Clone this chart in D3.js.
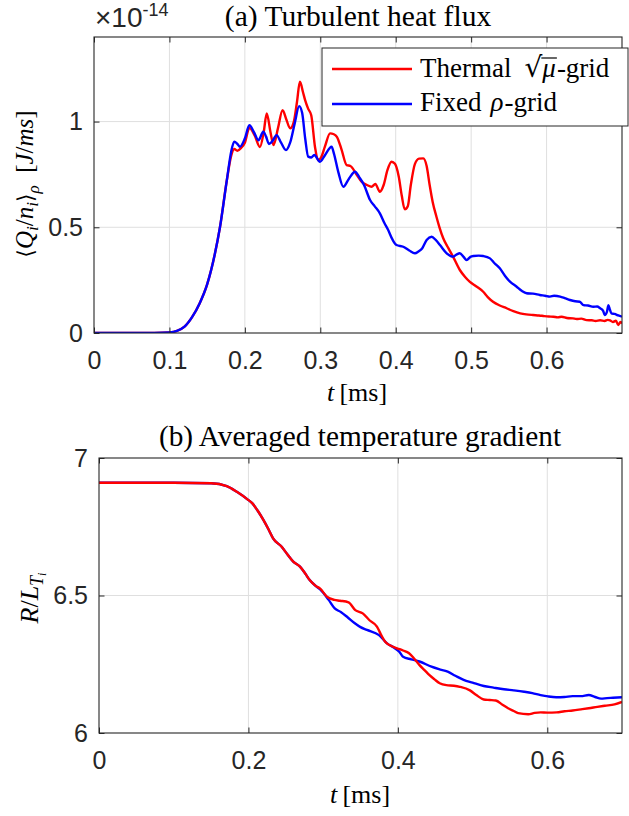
<!DOCTYPE html>
<html><head><meta charset="utf-8">
<script src="https://cdn.jsdelivr.net/npm/d3@7/dist/d3.min.js"></script>
<style>body{margin:0;background:#fff}</style>
</head><body>
<svg id="chart" width="629" height="816"></svg>
<script>
// ---------- data (time in ms) ----------
const fluxThermal = [[0,0],[0.05,0],[0.08,0.0005],[0.1,0.003],[0.11,0.01],[0.12,0.03],[0.13,0.075],[0.14,0.14],[0.15,0.23],[0.16,0.37],[0.167,0.5],[0.176,0.72],[0.182,0.84],[0.186,0.87],[0.19,0.862],[0.195,0.875],[0.2,0.9],[0.206,0.97],[0.213,0.935],[0.22,0.88],[0.225,0.95],[0.229,1.039],[0.234,0.95],[0.238,0.889],[0.244,0.97],[0.25,1.054],[0.255,1.01],[0.26,0.968],[0.265,1.0],[0.269,1.09],[0.273,1.188],[0.277,1.14],[0.28,1.1],[0.284,1.06],[0.288,1.03],[0.293,0.88],[0.297,0.818],[0.301,0.83],[0.306,0.88],[0.313,0.944],[0.318,0.94],[0.322,0.928],[0.328,0.87],[0.335,0.794],[0.34,0.79],[0.348,0.75],[0.355,0.715],[0.362,0.7],[0.368,0.692],[0.373,0.705],[0.379,0.668],[0.384,0.7],[0.389,0.77],[0.3945,0.81],[0.399,0.8],[0.404,0.74],[0.408,0.65],[0.412,0.585],[0.416,0.6],[0.42,0.7],[0.4255,0.8],[0.431,0.825],[0.4366,0.826],[0.441,0.79],[0.445,0.7],[0.449,0.62],[0.454,0.55],[0.458,0.5],[0.463,0.448],[0.47,0.4],[0.476,0.361],[0.485,0.298],[0.492,0.265],[0.498,0.243],[0.507,0.22],[0.516,0.195],[0.522,0.17],[0.529,0.148],[0.538,0.13],[0.547,0.117],[0.556,0.103],[0.565,0.093],[0.573,0.088],[0.582,0.085],[0.59,0.083],[0.597,0.08],[0.603,0.078],[0.609,0.077],[0.615,0.074],[0.62,0.077],[0.627,0.071],[0.635,0.069],[0.64,0.066],[0.646,0.068],[0.653,0.061],[0.66,0.06],[0.665,0.057],[0.671,0.06],[0.677,0.057],[0.681,0.062],[0.684,0.06],[0.688,0.052],[0.692,0.058],[0.695,0.038],[0.698,0.052],[0.7,0.045]];
const fluxFixed = [[0,0],[0.05,0],[0.08,0.0005],[0.1,0.003],[0.11,0.01],[0.12,0.03],[0.13,0.075],[0.14,0.14],[0.15,0.23],[0.16,0.37],[0.167,0.5],[0.176,0.72],[0.182,0.86],[0.186,0.905],[0.19,0.895],[0.1935,0.881],[0.2,0.92],[0.206,0.983],[0.212,0.95],[0.218,0.912],[0.2245,0.952],[0.228,0.93],[0.232,0.894],[0.237,0.91],[0.242,0.936],[0.248,0.9],[0.2545,0.865],[0.26,0.9],[0.266,0.99],[0.272,1.073],[0.276,1.04],[0.28,0.92],[0.284,0.834],[0.288,0.83],[0.292,0.842],[0.2996,0.81],[0.306,0.84],[0.315,0.881],[0.318,0.85],[0.324,0.76],[0.3305,0.692],[0.338,0.73],[0.346,0.763],[0.352,0.735],[0.358,0.7],[0.366,0.629],[0.372,0.6],[0.379,0.566],[0.385,0.52],[0.39,0.487],[0.396,0.44],[0.401,0.416],[0.41,0.408],[0.418,0.39],[0.4255,0.377],[0.43,0.385],[0.435,0.4],[0.441,0.44],[0.4477,0.455],[0.453,0.44],[0.4587,0.416],[0.4676,0.377],[0.476,0.361],[0.481,0.372],[0.485,0.377],[0.49,0.36],[0.494,0.345],[0.499,0.36],[0.503,0.364],[0.51,0.366],[0.516,0.364],[0.525,0.353],[0.531,0.33],[0.538,0.306],[0.545,0.27],[0.5515,0.243],[0.56,0.22],[0.567,0.2],[0.5736,0.188],[0.582,0.186],[0.591,0.18],[0.598,0.176],[0.6045,0.172],[0.61,0.176],[0.618,0.172],[0.624,0.165],[0.631,0.156],[0.638,0.15],[0.644,0.148],[0.649,0.132],[0.655,0.13],[0.662,0.124],[0.667,0.125],[0.671,0.117],[0.675,0.105],[0.677,0.085],[0.68,0.1],[0.682,0.132],[0.684,0.11],[0.686,0.093],[0.69,0.09],[0.695,0.083],[0.7,0.077]];
const gradThermal = [[0,6.91],[0.1,6.91],[0.15,6.908],[0.171,6.898],[0.185,6.876],[0.2,6.847],[0.205,6.836],[0.212,6.81],[0.22,6.775],[0.227,6.74],[0.233,6.708],[0.2445,6.677],[0.252,6.65],[0.26,6.623],[0.269,6.605],[0.276,6.58],[0.282,6.556],[0.29,6.535],[0.296,6.525],[0.305,6.496],[0.315,6.484],[0.3226,6.481],[0.334,6.475],[0.343,6.447],[0.353,6.435],[0.362,6.41],[0.372,6.387],[0.377,6.36],[0.383,6.332],[0.39,6.318],[0.399,6.308],[0.407,6.3],[0.415,6.29],[0.422,6.27],[0.429,6.247],[0.436,6.228],[0.442,6.211],[0.449,6.195],[0.456,6.181],[0.465,6.174],[0.475,6.172],[0.483,6.168],[0.4965,6.155],[0.505,6.138],[0.515,6.122],[0.523,6.12],[0.531,6.118],[0.54,6.103],[0.5475,6.09],[0.555,6.08],[0.561,6.072],[0.5745,6.068],[0.583,6.073],[0.591,6.075],[0.6,6.074],[0.6125,6.075],[0.623,6.079],[0.634,6.082],[0.645,6.086],[0.6555,6.09],[0.667,6.095],[0.677,6.099],[0.69,6.104],[0.7,6.113]];
const gradFixed = [[0,6.91],[0.1,6.91],[0.15,6.908],[0.171,6.898],[0.185,6.876],[0.2,6.847],[0.205,6.836],[0.212,6.81],[0.22,6.775],[0.227,6.74],[0.233,6.708],[0.2445,6.677],[0.252,6.65],[0.26,6.623],[0.269,6.605],[0.276,6.58],[0.282,6.556],[0.29,6.535],[0.296,6.522],[0.3074,6.484],[0.3155,6.453],[0.3236,6.44],[0.333,6.42],[0.3424,6.399],[0.35,6.385],[0.3586,6.375],[0.3748,6.356],[0.3855,6.326],[0.395,6.31],[0.4018,6.296],[0.407,6.277],[0.418,6.268],[0.4289,6.26],[0.445,6.241],[0.455,6.232],[0.4667,6.223],[0.477,6.208],[0.488,6.193],[0.5,6.183],[0.515,6.171],[0.528,6.165],[0.542,6.159],[0.555,6.155],[0.569,6.15],[0.58,6.145],[0.591,6.138],[0.601,6.133],[0.612,6.13],[0.623,6.131],[0.634,6.134],[0.645,6.134],[0.6555,6.138],[0.664,6.131],[0.672,6.125],[0.68,6.127],[0.688,6.128],[0.7,6.13]];

const fluxXTicks = [0, 0.1, 0.2, 0.3, 0.4, 0.5, 0.6];
const fluxYTicks = [0, 0.5, 1];
const gradXTicks = [0, 0.2, 0.4, 0.6];
const gradYTicks = [6, 6.5, 7];
const seriesNames = ["Thermal", "Fixed"];
const seriesColors = ["#ff0000", "#0000ff"];

// ---------- style ----------
const SANS = "'Liberation Sans', Arial, Helvetica, sans-serif";
const SERIF = "'Liberation Serif', 'Times New Roman', serif";
const AX = "#262626", GRID = "#dfdfdf";
const TICKF = 25;

const svg = d3.select("#chart");
svg.append("rect").attr("width", 629).attr("height", 816).attr("fill", "#fff");

function fmt(d){ return d === 0 ? "0" : String(d); }

function panel(box, xDom, yDom, xt, yt, series, id) {
  const x = d3.scaleLinear().domain(xDom).range([box.l, box.r]);
  const y = d3.scaleLinear().domain(yDom).range([box.b, box.t]);
  const g = svg.append("g");
  g.append("g").selectAll("line").data(xt.filter(d => d > xDom[0] && d < xDom[1])).join("line")
    .attr("x1", d => x(d)).attr("x2", d => x(d)).attr("y1", box.t).attr("y2", box.b)
    .attr("stroke", GRID).attr("stroke-width", 1);
  g.append("g").selectAll("line").data(yt.filter(d => d > yDom[0] && d < yDom[1])).join("line")
    .attr("y1", d => y(d)).attr("y2", d => y(d)).attr("x1", box.l).attr("x2", box.r)
    .attr("stroke", GRID).attr("stroke-width", 1);
  svg.append("clipPath").attr("id", id).append("rect")
    .attr("x", box.l).attr("y", box.t - 2).attr("width", box.r - box.l).attr("height", box.b - box.t + 2);
  const line = d3.line().x(d => x(d[0])).y(d => y(d[1])).curve(d3.curveMonotoneX);
  series.forEach(s => {
    g.append("path").attr("d", line(s.data)).attr("fill", "none")
      .attr("stroke", s.color).attr("stroke-width", 2.4).attr("stroke-linejoin", "round")
      .attr("clip-path", `url(#${id})`);
  });
  const ts = 5.5;
  const ax = d3.axisBottom(x).tickValues(xt).tickFormat(fmt).tickSizeInner(-ts).tickSizeOuter(0).tickPadding(18);
  const gx = g.append("g").attr("transform", `translate(0,${box.b})`).call(ax);
  const ay = d3.axisLeft(y).tickValues(yt).tickFormat(fmt).tickSizeInner(-ts).tickSizeOuter(0).tickPadding(11);
  const gy = g.append("g").attr("transform", `translate(${box.l},0)`).call(ay);
  const axT = d3.axisTop(x).tickValues(xt).tickFormat("").tickSizeInner(-ts).tickSizeOuter(0);
  const gxt = g.append("g").attr("transform", `translate(0,${box.t})`).call(axT);
  const ayR = d3.axisRight(y).tickValues(yt).tickFormat("").tickSizeInner(-ts).tickSizeOuter(0);
  const gyr = g.append("g").attr("transform", `translate(${box.r},0)`).call(ayR);
  [gx, gy, gxt, gyr].forEach(a => {
    a.select(".domain").remove();
    a.selectAll("line").attr("stroke", AX).attr("stroke-width", 1);
    a.selectAll("text").attr("fill", AX).attr("font-family", SANS).attr("font-size", TICKF);
  });
  gx.selectAll("text").attr("dy", "0.72em");
  g.append("rect").attr("x", box.l).attr("y", box.t).attr("width", box.r - box.l).attr("height", box.b - box.t)
    .attr("fill", "none").attr("stroke", AX).attr("stroke-width", 1.1);
  return {x, y, g};
}

// ---------- panel (a) ----------
const boxA = {l: 94, r: 622, t: 37, b: 333};
panel(boxA, [0, 0.7], [0, 1.4], fluxXTicks, fluxYTicks,
  [{data: fluxThermal, color: seriesColors[0]}, {data: fluxFixed, color: seriesColors[1]}], "clipA");

// ---------- panel (b) ----------
const boxB = {l: 99, r: 622, t: 458, b: 733};
panel(boxB, [0, 0.7], [6, 7], gradXTicks, gradYTicks,
  [{data: gradFixed, color: seriesColors[1]}, {data: gradThermal, color: seriesColors[0]}], "clipB");

// ---------- texts ----------
function serifText(x, y, txt, size, anchor) {
  return svg.append("text").attr("x", x).attr("y", y).attr("font-family", SERIF)
    .attr("font-size", size).attr("text-anchor", anchor || "middle").attr("fill", "#000").text(txt);
}
serifText(358, 26, "(a) Turbulent heat flux", 29.5);
serifText(360, 446, "(b) Averaged temperature gradient", 29.3);

// exponent label
const ex = svg.append("text").attr("x", 95).attr("y", 27).attr("font-family", SANS).attr("fill", AX);
ex.append("tspan").attr("font-size", 28).text("\u00d710");
ex.append("tspan").attr("font-size", 18).attr("dy", -11).text("-14");

// x labels
function tLabel(cx, y) {
  const t = svg.append("text").attr("x", cx).attr("y", y).attr("font-family", SERIF)
    .attr("font-size", 26).attr("text-anchor", "middle").attr("fill", "#000");
  t.append("tspan").attr("font-style", "italic").text("t");
  t.append("tspan").text("\u2009[ms]");
}
tLabel(357, 401);
tLabel(360, 803);

// y label (a)
const ya = svg.append("text").attr("transform", "translate(33,184) rotate(-90)")
  .attr("font-family", SERIF).attr("font-size", 25).attr("text-anchor", "middle").attr("fill", "#000");
const sub = (el, s, it, d) => el.append("tspan").attr("font-size", 17).attr("font-style", it ? "italic" : "normal").attr("dy", d).text(s);
ya.append("tspan").attr("font-family", "'DejaVu Serif', serif").attr("font-size", 22).text("\u27e8");
ya.append("tspan").attr("font-style", "italic").text("Q");
sub(ya, "i", true, 5);
ya.append("tspan").attr("dy", -5).text("/");
ya.append("tspan").attr("font-style", "italic").text("n");
sub(ya, "i", true, 5);
ya.append("tspan").attr("dy", -5).attr("font-family", "'DejaVu Serif', serif").attr("font-size", 22).text("\u27e9");
sub(ya, "\u03c1", true, 6);
ya.append("tspan").attr("dy", -6).text("\u2002[");
ya.append("tspan").attr("font-style", "italic").text("J");
ya.append("tspan").text("/");
ya.append("tspan").attr("font-style", "italic").text("ms");
ya.append("tspan").text("]");

// y label (b)
const yb = svg.append("text").attr("transform", "translate(38,598) rotate(-90)")
  .attr("font-family", SERIF).attr("font-size", 26).attr("text-anchor", "middle").attr("fill", "#000");
yb.append("tspan").attr("font-style", "italic").text("R");
yb.append("tspan").text("/");
yb.append("tspan").attr("font-style", "italic").text("L");
yb.append("tspan").attr("font-style", "italic").attr("font-size", 18).attr("dy", 5).text("T");
yb.append("tspan").attr("font-style", "italic").attr("font-size", 12).attr("dy", 3).text("i");

// ---------- legend ----------
const lg = svg.append("g");
lg.append("rect").attr("x", 322).attr("y", 48).attr("width", 306).attr("height", 78)
  .attr("fill", "#fff").attr("stroke", AX).attr("stroke-width", 1);
const rows = [69, 104];
rows.forEach((yy, i) => {
  lg.append("line").attr("x1", 332).attr("x2", 412).attr("y1", yy).attr("y2", yy)
    .attr("stroke", seriesColors[i]).attr("stroke-width", 2.4);
});
function seq(x, y, parts, size) {
  let cx = x; const boxes = [];
  parts.forEach(p => {
    const el = lg.append("text").attr("x", cx).attr("y", y).attr("font-family", p.ff || SERIF)
      .attr("font-size", p.size || size).attr("font-style", p.it ? "italic" : "normal").attr("fill", "#000").text(p.t);
    const w = el.node().getComputedTextLength();
    boxes.push([cx, cx + w]);
    cx += w + (p.gap || 0);
  });
  return boxes;
}
const b1 = seq(420, 77, [{t: seriesNames[0], gap: 13}, {t: "\u221a", size: 28, ff: "'DejaVu Serif', serif"}, {t: "\u03bc", it: true, gap: 1}, {t: "-grid"}], 27);
lg.append("line").attr("x1", b1[1][1] - 1).attr("x2", b1[2][1] + 1).attr("y1", 58).attr("y2", 58)
  .attr("stroke", "#000").attr("stroke-width", 1.2);
seq(420, 111, [{t: seriesNames[1], gap: 9}, {t: "\u03c1", it: true, gap: 1}, {t: "-grid"}], 27);
</script>
</body></html>
